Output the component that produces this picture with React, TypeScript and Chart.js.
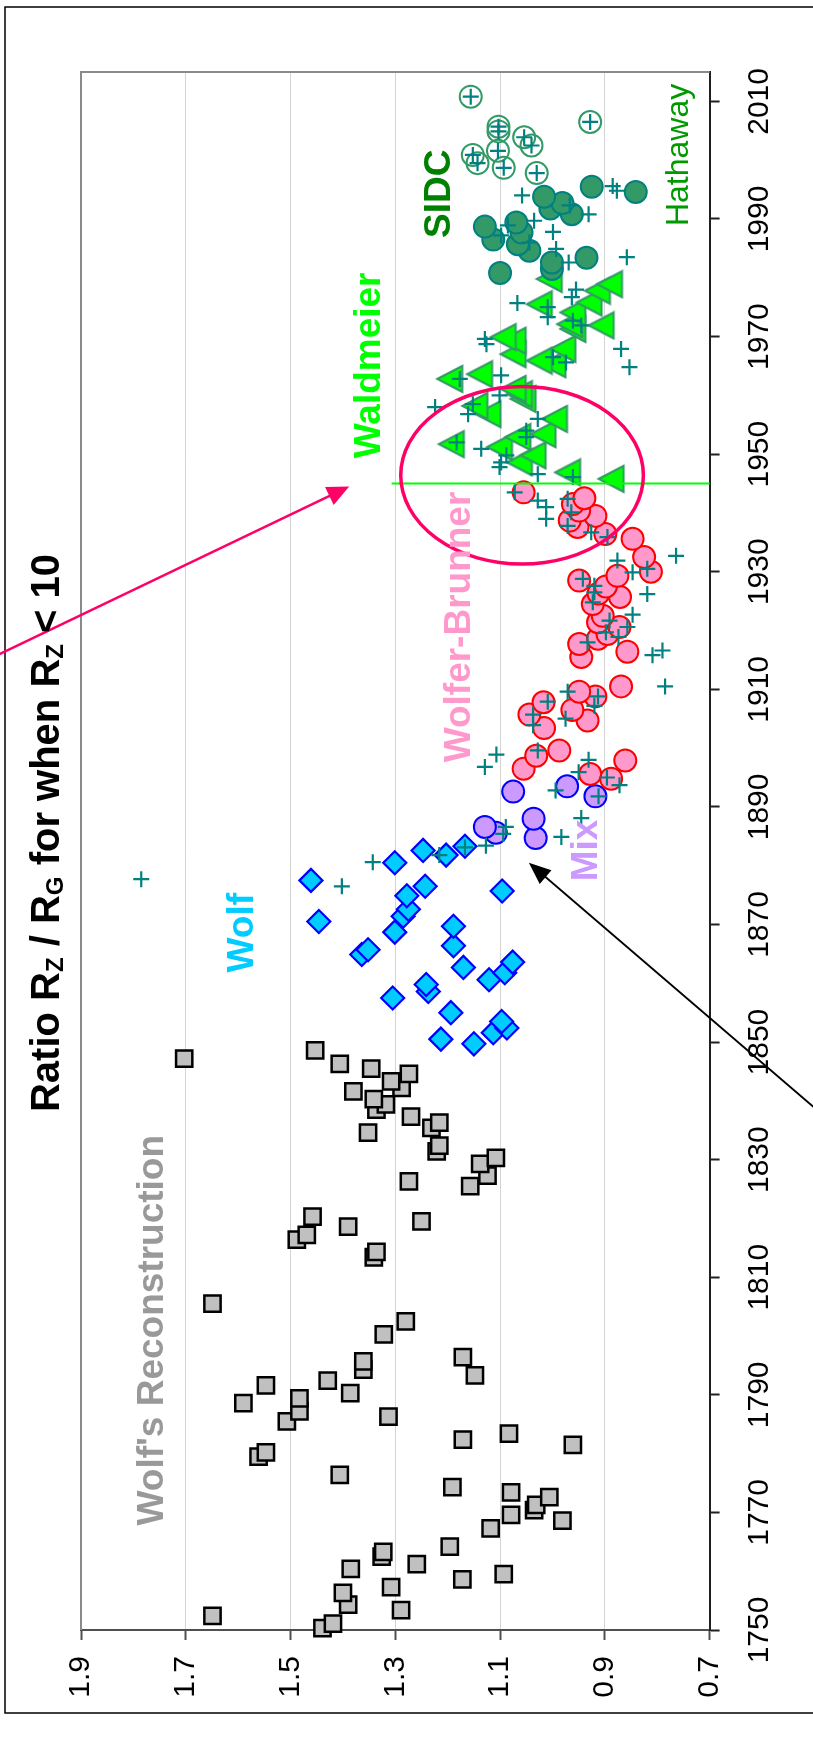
import React, { useEffect, useRef } from 'react';
import { Chart, registerables } from 'chart.js';

Chart.register(...registerables);

// ---------- data: [year, ratio RZ/RG] ----------
const RATIO_TICKS = [0.7, 0.9, 1.1, 1.3, 1.5, 1.7, 1.9];
const YEAR_TICKS = [1750, 1770, 1790, 1810, 1830, 1850, 1870, 1890, 1910, 1930, 1950, 1970, 1990, 2010];

type Pt = [number, number];

const WOLF_RECONSTRUCTION: Pt[] = [
  [1750.3, 1.439], [1751.1, 1.419], [1752.4, 1.649], [1753.4, 1.289], [1754.3, 1.39], [1756.3, 1.4],
  [1757.3, 1.308], [1758.6, 1.172], [1759.5, 1.093], [1760.4, 1.385], [1761.2, 1.259], [1762.5, 1.326],
  [1763.3, 1.323], [1764.2, 1.196], [1767.3, 1.118], [1768.6, 0.981], [1769.6, 1.079], [1770.4, 1.035],
  [1771.3, 1.031], [1772.6, 1.006], [1773.4, 1.079], [1774.3, 1.191], [1776.4, 1.406], [1779.5, 1.561],
  [1780.2, 1.547], [1781.5, 0.961], [1782.4, 1.171], [1783.4, 1.083], [1785.5, 1.507], [1786.3, 1.313],
  [1787.2, 1.483], [1788.6, 1.59], [1789.4, 1.483], [1790.3, 1.386], [1791.6, 1.547], [1792.4, 1.429],
  [1793.3, 1.148], [1794.3, 1.361], [1795.7, 1.361], [1796.4, 1.171], [1800.3, 1.322], [1802.5, 1.28],
  [1805.5, 1.649], [1813.4, 1.341], [1814.3, 1.336], [1816.4, 1.488], [1817.2, 1.469], [1818.6, 1.39],
  [1819.5, 1.25], [1820.3, 1.458], [1825.5, 1.157], [1826.3, 1.274], [1827.3, 1.124], [1829.3, 1.138],
  [1830.3, 1.108], [1831.4, 1.221], [1832.4, 1.216], [1834.6, 1.352], [1835.4, 1.231], [1836.3, 1.216],
  [1837.3, 1.27], [1838.5, 1.336], [1839.4, 1.318], [1840.3, 1.341], [1841.6, 1.38], [1842.2, 1.288],
  [1843.3, 1.308], [1844.6, 1.274], [1845.5, 1.346], [1846.3, 1.406], [1847.2, 1.703], [1848.6, 1.453],
];

const WOLF: Pt[] = [
  [1849.7, 1.15], [1850.5, 1.213], [1851.6, 1.113], [1852.4, 1.087], [1853.5, 1.097], [1855.0, 1.194],
  [1857.5, 1.305], [1858.6, 1.237], [1859.8, 1.241], [1860.6, 1.121], [1861.8, 1.091], [1862.7, 1.17],
  [1863.6, 1.076], [1864.9, 1.364], [1865.7, 1.352], [1866.4, 1.189], [1868.7, 1.301], [1869.7, 1.189],
  [1870.5, 1.446], [1871.4, 1.285], [1872.6, 1.275], [1874.9, 1.278], [1875.7, 1.096], [1876.5, 1.243],
  [1877.5, 1.461], [1880.5, 1.301], [1881.8, 1.203], [1882.6, 1.247], [1883.3, 1.167],
];

const MIX: Pt[] = [
  [1884.7, 1.032], [1885.6, 1.108], [1886.6, 1.129], [1888.0, 1.036], [1891.8, 0.918], [1892.6, 1.075],
  [1893.5, 0.972],
];

const WOLFER_BRUNNER: Pt[] = [
  [1894.8, 0.888], [1895.6, 0.928], [1896.5, 1.055], [1897.9, 0.861], [1898.7, 1.031], [1899.6, 0.987],
  [1903.4, 1.016], [1904.7, 0.933], [1905.7, 1.044], [1906.5, 0.962], [1907.8, 1.017], [1908.8, 0.918],
  [1909.6, 0.949], [1910.5, 0.869], [1915.5, 0.945], [1916.4, 0.857], [1917.7, 0.949], [1918.6, 0.913],
  [1919.4, 0.895], [1920.6, 0.872], [1921.4, 0.913], [1922.5, 0.904], [1924.5, 0.923], [1925.7, 0.871],
  [1926.3, 0.912], [1927.5, 0.898], [1928.5, 0.949], [1929.3, 0.876], [1930.0, 0.812], [1932.5, 0.825],
  [1935.6, 0.847], [1936.4, 0.899], [1937.6, 0.952], [1938.7, 0.967], [1939.5, 0.918], [1940.4, 0.949],
  [1941.5, 0.961], [1942.5, 0.939], [1943.5, 1.055],
];

const WALDMEIER: Pt[] = [
  [1945.8, 0.888], [1946.9, 0.971], [1948.6, 1.063], [1949.8, 1.037], [1951.2, 1.101], [1951.7, 1.193],
  [1952.9, 1.066], [1953.4, 1.018], [1956.0, 0.996], [1956.8, 1.123], [1958.2, 1.148], [1959.4, 1.056],
  [1960.2, 1.063], [1961.1, 1.075], [1962.8, 1.196], [1963.6, 1.139], [1965.3, 0.999], [1965.9, 1.025],
  [1967.0, 1.075], [1967.9, 0.98], [1969.3, 1.075], [1969.9, 1.094], [1971.3, 0.961], [1971.9, 0.907],
  [1972.1, 0.967], [1974.1, 0.961], [1975.5, 1.025], [1975.8, 0.93], [1977.8, 0.914], [1978.9, 0.891],
  [1979.8, 1.006],
];

const SIDC: Pt[] = [
  [1980.8, 1.1], [1981.5, 1.001], [1982.6, 1.001], [1983.4, 0.935], [1984.6, 1.044], [1985.7, 1.066],
  [1986.5, 1.113], [1987.7, 1.059], [1988.7, 1.129], [1989.4, 1.069], [1990.8, 0.963], [1991.8, 1.004],
  [1992.7, 0.981], [1993.8, 1.016], [1994.6, 0.841], [1995.5, 0.925],
];

const HATHAWAY: Pt[] = [
  [1997.8, 1.03], [1998.7, 1.093], [1999.5, 1.143], [2000.9, 1.152], [2001.6, 1.104], [2002.5, 1.04],
  [2003.9, 1.054], [2004.9, 1.103], [2005.7, 1.103], [2006.5, 0.928], [2010.8, 1.156],
];

const OTHER_RATIO: Pt[] = [
  [1876.5, 1.402], [1877.7, 1.785], [1880.6, 1.343], [1881.8, 1.216], [1883.1, 1.167], [1883.4, 1.127],
  [1884.9, 0.983], [1885.4, 1.094], [1886.6, 1.089], [1888.1, 0.945], [1891.8, 0.912], [1892.8, 0.994],
  [1893.7, 0.872], [1895.0, 0.896], [1895.9, 0.95], [1896.8, 1.129], [1898.0, 0.931], [1898.9, 1.107],
  [1899.6, 1.028], [1903.9, 1.037], [1905.0, 0.975], [1905.7, 1.037], [1907.2, 0.92], [1907.9, 1.009],
  [1908.8, 0.913], [1909.6, 0.971], [1910.5, 0.785], [1915.8, 0.809], [1916.6, 0.79], [1918.0, 0.933],
  [1918.9, 0.874], [1919.7, 0.898], [1920.6, 0.857], [1921.7, 0.891], [1922.7, 0.847], [1924.8, 0.923],
  [1926.2, 0.819], [1926.5, 0.92], [1927.6, 0.92], [1928.8, 0.942], [1929.9, 0.847], [1930.5, 0.819],
  [1931.9, 0.876], [1932.7, 0.764], [1935.9, 0.895], [1936.7, 0.926], [1937.8, 0.971], [1939.0, 1.012],
  [1940.1, 0.964], [1941.0, 1.012], [1942.1, 1.028], [1942.4, 0.971], [1943.5, 1.072], [1946.1, 0.961],
  [1946.6, 1.028], [1947.8, 1.101], [1948.6, 1.098], [1949.8, 1.088], [1950.9, 1.136], [1952.0, 1.183],
  [1952.9, 1.05], [1954.0, 1.05], [1956.0, 1.028], [1956.8, 1.161], [1958.0, 1.224], [1958.5, 1.152],
  [1960.0, 1.101], [1962.8, 1.177], [1963.4, 1.098], [1964.8, 0.853], [1965.6, 0.974], [1966.5, 0.999],
  [1967.9, 0.869], [1968.7, 1.126], [1969.6, 1.129], [1971.9, 0.945], [1972.7, 0.961], [1973.3, 1.009],
  [1975.0, 1.009], [1975.7, 1.067], [1976.7, 0.963], [1978.0, 0.955], [1982.6, 0.969], [1983.5, 0.858],
  [1984.9, 0.993], [1986.0, 1.044], [1987.2, 1.098], [1987.8, 0.999], [1988.9, 1.085], [1989.7, 1.035],
  [1990.8, 0.931], [1992.3, 0.967], [1994.0, 1.058], [1994.8, 0.877], [1995.6, 0.885],
];

// ---------- annotations (in data units: ratio, year) ----------
const SERIES_LABELS = [
  { text: "Wolf's Reconstruction", ratio: 1.7435, year: 1801.0, color: '#999999', weight: 'bold', size: 37 },
  { text: 'Wolf', ratio: 1.5716, year: 1868.6, color: '#00ccff', weight: 'bold', size: 37 },
  { text: 'Mix', ratio: 0.915, year: 1882.6, color: '#cc99ff', weight: 'bold', size: 37 },
  { text: 'Wolfer-Brunner', ratio: 1.1573, year: 1920.6, color: '#ff99cc', weight: 'bold', size: 37 },
  { text: 'Waldmeier', ratio: 1.3292, year: 1965.1, color: '#00ff00', weight: 'bold', size: 37 },
  { text: 'SIDC', ratio: 1.1955, year: 1994.3, color: '#008000', weight: 'bold', size: 37 },
  { text: 'Hathaway', ratio: 0.7412, year: 2000.9, color: '#009900', weight: 'normal', size: 32 },
];
const ELLIPSE = { ratio: 1.058, year: 1946.4, rRatio: 0.2316, rYear: 15.1 };
const MARK_LINE = { year: 1945, fromRatio: 1.307, toRatio: 0.7 };
const PINK_ARROW = { from: [2.093, 1914.4], to: [1.388, 1944.5] };
const BLACK_ARROW = { from: [0.451, 1835.1], to: [1.045, 1880.5] };

const FONT = "'Liberation Sans', Arial, Helvetica, sans-serif";

const toXY = (pts: Pt[]) => pts.map(([year, ratio]) => ({ x: ratio, y: year }));

function makeTriangle(): HTMLCanvasElement {
  const c = document.createElement('canvas');
  c.width = 30;
  c.height = 30;
  const g = c.getContext('2d')!;
  g.beginPath();
  g.moveTo(2.5, 15);
  g.lineTo(27.5, 2);
  g.lineTo(27.5, 28);
  g.closePath();
  g.fillStyle = '#00ff00';
  g.fill();
  g.lineWidth = 2;
  g.strokeStyle = '#339966';
  g.stroke();
  return c;
}

function rotText(ctx: CanvasRenderingContext2D, text: string, x: number, y: number, font: string, color: string) {
  ctx.save();
  ctx.translate(x, y);
  ctx.rotate(-Math.PI / 2);
  ctx.font = font;
  ctx.fillStyle = color;
  ctx.textAlign = 'center';
  ctx.textBaseline = 'alphabetic';
  ctx.fillText(text, 0, 0);
  ctx.restore();
}

function arrow(ctx: CanvasRenderingContext2D, x1: number, y1: number, x2: number, y2: number, color: string, lw: number, len: number, half: number) {
  const a = Math.atan2(y2 - y1, x2 - x1);
  const bx = x2 - Math.cos(a) * len;
  const by = y2 - Math.sin(a) * len;
  ctx.save();
  ctx.strokeStyle = color;
  ctx.fillStyle = color;
  ctx.lineWidth = lw;
  ctx.beginPath();
  ctx.moveTo(x1, y1);
  ctx.lineTo(bx + Math.cos(a) * 2, by + Math.sin(a) * 2);
  ctx.stroke();
  ctx.beginPath();
  ctx.moveTo(x2, y2);
  ctx.lineTo(bx - Math.sin(a) * half, by + Math.cos(a) * half);
  ctx.lineTo(bx + Math.sin(a) * half, by - Math.cos(a) * half);
  ctx.closePath();
  ctx.fill();
  ctx.restore();
}

const decorPlugin = {
  id: 'decor',
  beforeDraw(chart: any) {
    const ctx = chart.ctx as CanvasRenderingContext2D;
    ctx.save();
    ctx.fillStyle = '#ffffff';
    ctx.fillRect(0, 0, chart.width, chart.height);
    ctx.strokeStyle = '#000000';
    ctx.lineWidth = 1.5;
    ctx.strokeRect(5, 7, chart.width + 20, chart.height - 32);
    ctx.restore();
  },
  beforeDatasetsDraw(chart: any) {
    const ctx = chart.ctx as CanvasRenderingContext2D;
    const { left, top, right, bottom } = chart.chartArea;
    ctx.save();
    ctx.strokeStyle = '#8a8a8a';
    ctx.lineWidth = 2;
    ctx.beginPath();
    ctx.moveTo(left, bottom);
    ctx.lineTo(left, top);
    ctx.lineTo(right, top);
    ctx.stroke();
    ctx.restore();
  },
  afterDatasetsDraw(chart: any) {
    const ctx = chart.ctx as CanvasRenderingContext2D;
    const xs = chart.scales.x;
    const ys = chart.scales.y;
    const px = (r: number) => xs.getPixelForValue(r);
    const py = (y: number) => ys.getPixelForValue(y);

    // green marker line at 1945
    ctx.save();
    ctx.strokeStyle = '#00ff00';
    ctx.lineWidth = 2;
    ctx.beginPath();
    ctx.moveTo(px(MARK_LINE.fromRatio), py(MARK_LINE.year));
    ctx.lineTo(px(MARK_LINE.toRatio), py(MARK_LINE.year));
    ctx.stroke();

    // ellipse
    const cx = px(ELLIPSE.ratio);
    const cy = py(ELLIPSE.year);
    const rx = Math.abs(px(ELLIPSE.ratio - ELLIPSE.rRatio) - cx);
    const ry = Math.abs(py(ELLIPSE.year - ELLIPSE.rYear) - cy);
    ctx.strokeStyle = '#ff0066';
    ctx.lineWidth = 3.5;
    ctx.beginPath();
    ctx.ellipse(cx, cy, rx, ry, 0, 0, Math.PI * 2);
    ctx.stroke();
    ctx.restore();

    arrow(ctx, px(PINK_ARROW.from[0]), py(PINK_ARROW.from[1]), px(PINK_ARROW.to[0]), py(PINK_ARROW.to[1]), '#ff0066', 2.5, 22, 10);
    arrow(ctx, px(BLACK_ARROW.from[0]), py(BLACK_ARROW.from[1]), px(BLACK_ARROW.to[0]), py(BLACK_ARROW.to[1]), '#000000', 1.8, 22, 9);

    // series labels
    for (const l of SERIES_LABELS) {
      rotText(ctx, l.text, px(l.ratio), py(l.year), `${l.weight} ${l.size}px ${FONT}`, l.color);
    }

    // year tick labels (rotated)
    for (const v of YEAR_TICKS) {
      rotText(ctx, String(v), 768, py(v), `30px ${FONT}`, '#000000');
    }

    // title with subscripts
    const segs: [string, boolean][] = [
      ['Ratio R', false], ['Z', true], [' / R', false], ['G', true],
      [' for when R', false], ['Z', true], [' < 10', false],
    ];
    const mainF = `bold 40px ${FONT}`;
    const subF = `bold 24px ${FONT}`;
    ctx.save();
    let total = 0;
    for (const [t, s] of segs) {
      ctx.font = s ? subF : mainF;
      total += ctx.measureText(t).width;
    }
    ctx.translate(59, 833);
    ctx.rotate(-Math.PI / 2);
    ctx.fillStyle = '#000000';
    ctx.textAlign = 'left';
    ctx.textBaseline = 'alphabetic';
    let pos = -total / 2;
    for (const [t, s] of segs) {
      ctx.font = s ? subF : mainF;
      ctx.fillText(t, pos, s ? 4 : 0);
      pos += ctx.measureText(t).width;
    }
    ctx.restore();
  },
};

export default function App() {
  const ref = useRef<HTMLCanvasElement | null>(null);

  useEffect(() => {
    const canvas = ref.current;
    if (!canvas) return;
    const tri = makeTriangle();
    const chart = new Chart(canvas, {
      type: 'scatter',
      data: {
        datasets: [
          {
            label: 'Other ratio',
            data: toXY(OTHER_RATIO),
            pointStyle: 'cross',
            radius: 8,
            borderColor: '#008080',
            borderWidth: 2.2,
          },
          {
            label: 'Hathaway (cross)',
            data: toXY(HATHAWAY),
            pointStyle: 'cross',
            radius: 8,
            borderColor: '#008080',
            borderWidth: 2.2,
          },
          {
            label: 'Hathaway',
            data: toXY(HATHAWAY),
            pointStyle: 'circle',
            radius: 11,
            backgroundColor: 'rgba(0,0,0,0)',
            borderColor: '#339966',
            borderWidth: 2,
          },
          {
            label: 'SIDC',
            data: toXY(SIDC),
            pointStyle: 'circle',
            radius: 11,
            backgroundColor: '#339966',
            borderColor: '#008080',
            borderWidth: 2,
          },
          {
            label: 'Waldmeier',
            data: toXY(WALDMEIER),
            pointStyle: tri,
            radius: 13,
          },
          {
            label: 'Wolfer-Brunner',
            data: toXY(WOLFER_BRUNNER),
            pointStyle: 'circle',
            radius: 11,
            backgroundColor: '#ff99cc',
            borderColor: '#ff0000',
            borderWidth: 2,
          },
          {
            label: 'Mix',
            data: toXY(MIX),
            pointStyle: 'circle',
            radius: 11,
            backgroundColor: '#cc99ff',
            borderColor: '#0000ff',
            borderWidth: 2,
          },
          {
            label: 'Wolf',
            data: toXY(WOLF),
            pointStyle: 'rectRot',
            radius: 11.5,
            backgroundColor: '#00ccff',
            borderColor: '#0000ff',
            borderWidth: 2.2,
          },
          {
            label: "Wolf's Reconstruction",
            data: toXY(WOLF_RECONSTRUCTION),
            pointStyle: 'rect',
            radius: 11.5,
            backgroundColor: '#c0c0c0',
            borderColor: '#000000',
            borderWidth: 2.5,
          },
        ] as any,
      },
      options: {
        animation: false,
        responsive: false,
        devicePixelRatio: 1,
        events: [],
        datasets: { scatter: { clip: false } as any },
        layout: { padding: { left: 81, top: 72, right: 0, bottom: 0 } },
        plugins: { legend: { display: false }, tooltip: { enabled: false }, title: { display: false } },
        scales: {
          x: {
            type: 'linear',
            position: 'bottom',
            min: 0.7,
            max: 1.9,
            reverse: true,
            afterBuildTicks: (s: any) => {
              s.ticks = RATIO_TICKS.map((v) => ({ value: v }));
            },
            afterFit: (s: any) => {
              s.height = 108;
            },
            grid: {
              color: '#d4d4d4',
              lineWidth: 1,
              drawTicks: true,
              tickLength: 10,
              tickColor: '#505050',
              tickWidth: 2,
            },
            border: { display: true, color: '#505050', width: 2 },
            ticks: {
              autoSkip: false,
              minRotation: 90,
              maxRotation: 90,
              padding: 16,
              color: '#000000',
              font: { family: FONT, size: 30 },
              callback: (v: any) => Number(v).toFixed(1),
            },
          },
          y: {
            type: 'linear',
            position: 'right',
            min: 1750,
            max: 2015,
            afterBuildTicks: (s: any) => {
              s.ticks = YEAR_TICKS.map((v) => ({ value: v }));
            },
            afterFit: (s: any) => {
              s.width = 103.4;
            },
            grid: {
              drawOnChartArea: false,
              drawTicks: true,
              tickLength: 10,
              tickColor: '#202020',
              tickWidth: 2,
              color: '#202020',
            },
            border: { display: true, color: '#202020', width: 2 },
            ticks: { display: false },
          },
        },
      } as any,
      plugins: [decorPlugin],
    });
    return () => chart.destroy();
  }, []);

  return (
    <div style={{ position: 'absolute', left: 0, top: 0, width: 813, height: 1738, background: '#ffffff' }}>
      <canvas ref={ref} width={813} height={1738} style={{ display: 'block', width: 813, height: 1738 }} />
    </div>
  );
}
